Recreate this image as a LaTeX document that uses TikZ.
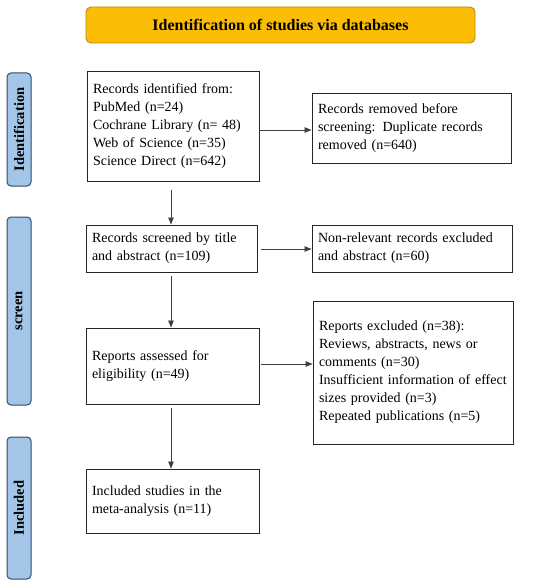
\documentclass[tikz,border=0pt]{standalone}
\usepackage{fontspec}
\setmainfont{Liberation Serif}
\usetikzlibrary{arrows.meta}
\definecolor{gold}{HTML}{FBBD05}
\definecolor{goldline}{HTML}{B88A10}
\definecolor{sideblue}{HTML}{A3C5E8}
\definecolor{sideline}{HTML}{2E4A66}
\tikzset{
  x=1pt, y=-1pt,
  title/.style={draw=goldline, fill=gold, rounded corners=5pt, line width=0.9pt,
    minimum width=389pt, minimum height=36pt, inner sep=0pt,
    font=\fontsize{16}{19}\selectfont\bfseries},
  side/.style={draw=sideline, fill=sideblue, rounded corners=4pt, line width=1pt,
    minimum height=24pt, inner sep=0pt, rotate=90,
    font=\fontsize{14.5}{17}\selectfont\bfseries},
  box/.style={draw=black!85, line width=0.9pt, align=left, inner sep=0pt,
    font=\fontsize{14}{18}\selectfont},
  arr/.style={draw=black!75, line width=0.7pt, -{Triangle[length=7pt,width=5.5pt]}},
}
\begin{document}
\begin{tikzpicture}
\useasboundingbox (0,0) rectangle (550,588);
\node[title] (t) at (280.5,25) {Identification of studies via databases};
\node[side, minimum width=113pt] (s1) at (19,129.5) {Identification};
\node[side, minimum width=188pt] (s2) at (19,311) {screen};
\node[side, minimum width=142pt] (s3) at (19,508) {Included};

\node[box, minimum width=172pt, minimum height=110pt, text width=160pt] (b1) at (173,126)
 {Records identified  from:\\PubMed (n=24)\\Cochrane Library  (n= 48)\\Web of  Science (n=35)\\Science Direct  (n=642)};
\node[box, minimum width=199pt, minimum height=70pt, text width=187pt] (b2) at (411.5,128)
 {Records removed before\\screening: Duplicate records\\removed (n=640)};
\node[box, minimum width=171pt, minimum height=47pt, text width=159pt] (b3) at (171.5,248.5)
 {Records screened by title\\and abstract (n=109)};
\node[box, minimum width=200pt, minimum height=47pt, text width=188pt] (b4) at (412,248.5)
 {Non-relevant  records excluded\\and abstract  (n=60)};
\node[box, minimum width=173pt, minimum height=76pt, text width=161pt] (b5) at (172.5,366)
 {Reports assessed for\\eligibility  (n=49)};
\node[box, minimum width=200pt, minimum height=143pt, text width=188pt] (b6) at (413,372.5)
 {Reports excluded (n=38):\\Reviews, abstracts, news or\\comments (n=30)\\Insufficient information of effect\\sizes provided (n=3)\\Repeated publications (n=5)};
\node[box, minimum width=173pt, minimum height=64pt, text width=161pt] (b7) at (172.5,501)
 {Included studies in the\\meta-analysis (n=11)};

\draw[arr] (b1.east |- 0,130) -- (b2.west |- 0,130);
\draw[arr] (b3.east |- 0,249) ++(4,0) -- (b4.west |- 0,249);
\draw[arr] (b5.east |- 0,364) ++(2,0) -- (b6.west |- 0,364);
\draw[arr, shorten <=9pt] (b1.south -| 171,0) -- (b3.north -| 171,0);
\draw[arr, shorten <=4pt] (b3.south -| 171,0) -- (b5.north -| 171,0);
\draw[arr, shorten <=4pt] (b5.south -| 171,0) -- (b7.north -| 171,0);
\end{tikzpicture}
\end{document}
